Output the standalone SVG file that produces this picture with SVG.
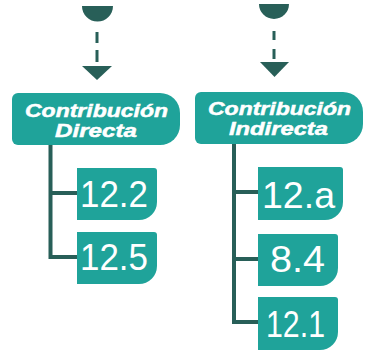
<svg xmlns="http://www.w3.org/2000/svg" width="371" height="351" viewBox="0 0 371 351">
<style>
.fill{fill:#1fa39a}
.dk{fill:#285f58}
.ln{stroke:#285f58;stroke-width:4;fill:none}
.dash{stroke:#285f58;stroke-width:3;fill:none}
.hd{font-family:"Liberation Sans",Arial,sans-serif;font-weight:bold;font-style:italic;font-size:19px;fill:#fff;stroke:#fff;stroke-width:0.5}
.num{font-family:"Liberation Sans",Arial,sans-serif;font-size:37px;fill:#fff}
</style>
<rect width="371" height="351" fill="#fff"/>
<g id="connectors">
<path class="dk" d="M82,6 H113 A15.5,15.5 0 0 1 82,6 Z"/>
<line class="dash" x1="97" y1="32" x2="97" y2="43"/>
<line class="dash" x1="97" y1="50" x2="97" y2="62"/>
<path class="dk" d="M82,66 H112 L97,80 Z"/>
<path class="dk" d="M259,4 H289 A15,15 0 0 1 259,4 Z"/>
<line class="dash" x1="274" y1="31" x2="274" y2="40"/>
<line class="dash" x1="274" y1="49" x2="274" y2="59"/>
<path class="dk" d="M260,62 H289 L274.5,77 Z"/>
<path class="ln" d="M50.5,144 V257 H78 M50.5,193 H78"/>
<path class="ln" d="M234,143 V322 H259 M234,192 H259 M234,259 H259"/>
</g>
<g id="directa">
<path class="fill" d="M18,93 H160 A20,20 0 0 1 180,113 V125 A20,20 0 0 1 160,145 H18 A6,6 0 0 1 12,139 V99 A6,6 0 0 1 18,93 Z"/>
<text class="hd" x="96.5" y="117" text-anchor="middle" textLength="143" lengthAdjust="spacingAndGlyphs">Contribución</text>
<text class="hd" x="96" y="137" text-anchor="middle" textLength="82" lengthAdjust="spacingAndGlyphs">Directa</text>
</g>
<g id="indirecta">
<path class="fill" d="M201,92 H343 A20,20 0 0 1 363,112 V124 A20,20 0 0 1 343,144 H201 A6,6 0 0 1 195,138 V98 A6,6 0 0 1 201,92 Z"/>
<text class="hd" x="279.5" y="115" text-anchor="middle" textLength="143" lengthAdjust="spacingAndGlyphs">Contribución</text>
<text class="hd" x="278.5" y="135" text-anchor="middle" textLength="99" lengthAdjust="spacingAndGlyphs">Indirecta</text>
</g>
<g id="n12-2">
<path class="fill" d="M77,168 H154 A3,3 0 0 1 157,171 V202 A18,18 0 0 1 139,220 H77 Z"/>
<text class="num" x="80" y="207" textLength="68" lengthAdjust="spacingAndGlyphs">12.2</text>
</g>
<g id="n12-5">
<path class="fill" d="M77,232 H154 A3,3 0 0 1 157,235 V266 A18,18 0 0 1 139,284 H77 Z"/>
<text class="num" x="80" y="270" textLength="68" lengthAdjust="spacingAndGlyphs">12.5</text>
</g>
<g id="n12-a">
<path class="fill" d="M258,167 H340 A3,3 0 0 1 343,170 V202 A18,18 0 0 1 325,220 H258 Z"/>
<text class="num" x="262" y="208" textLength="73" lengthAdjust="spacingAndGlyphs">12.a</text>
</g>
<g id="n8-4">
<path class="fill" d="M258,234 H335 A3,3 0 0 1 338,237 V268 A18,18 0 0 1 320,286 H258 Z"/>
<text class="num" x="270" y="272" textLength="55" lengthAdjust="spacingAndGlyphs">8.4</text>
</g>
<g id="n12-1">
<path class="fill" d="M258,297 H335 A3,3 0 0 1 338,300 V332 A18,18 0 0 1 320,350 H258 Z"/>
<text class="num" x="266" y="337" textLength="59" lengthAdjust="spacingAndGlyphs">12.1</text>
</g>
</svg>
